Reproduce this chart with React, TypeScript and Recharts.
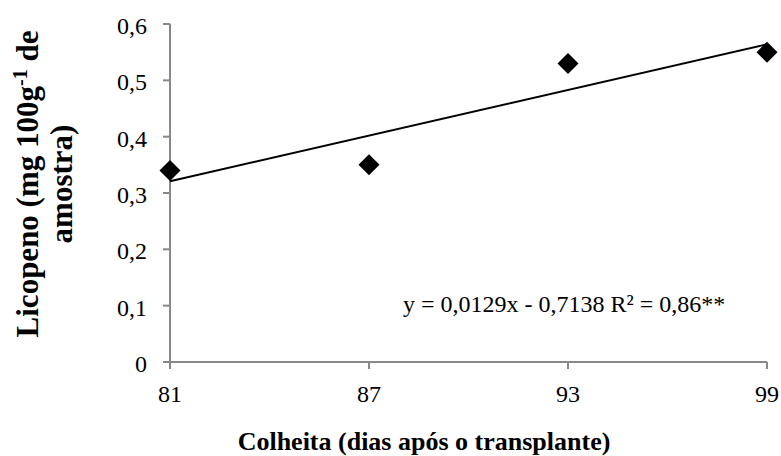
import { ScatterChart, Scatter, XAxis, YAxis, Label } from "recharts";

// harvest day (days after transplant) and lycopene content
const days = [81, 87, 93, 99];
const licopeno = [0.34, 0.35, 0.53, 0.55];

// linear trend, endpoints
const trendDays = [81, 99];
const trendValues = [0.321, 0.564];

const yTicks = [0, 0.1, 0.2, 0.3, 0.4, 0.5, 0.6];
const equation = "y = 0,0129x - 0,7138 R² = 0,86**";

const AXIS = "#888888";
const FONT = '"Liberation Serif", "Times New Roman", serif';

const points = days.map((d, i) => ({ x: d, y: licopeno[i] }));
const trend = trendDays.map((d, i) => ({ x: d, y: trendValues[i] }));

function fmt(v: number) {
  return v === 0 ? "0" : v.toFixed(1).replace(".", ",");
}

function Diamond(props: any) {
  const { cx, cy } = props;
  const r = 10.5;
  return (
    <polygon
      points={`${cx},${cy - r} ${cx + r},${cy} ${cx},${cy + r} ${cx - r},${cy}`}
      fill="#000"
    />
  );
}

function XTick(props: any) {
  const { x, y, payload } = props;
  return (
    <text x={x} y={y + 33} textAnchor="middle" fontFamily={FONT} fontSize={24} fill="#000">
      {payload.value}
    </text>
  );
}

function YTick(props: any) {
  const { x, y, payload } = props;
  return (
    <text x={x - 16} y={y + 10} textAnchor="end" fontFamily={FONT} fontSize={24} fill="#000">
      {fmt(payload.value)}
    </text>
  );
}

function YTitle() {
  const cy = 184;
  return (
    <g fontFamily={FONT} fontWeight="bold" fontSize={31} fill="#000">
      <text x={38} y={cy} textAnchor="middle" transform={`rotate(-90, 38, ${cy})`}>
        Licopeno (mg 100g
        <tspan dy={-11} fontSize={20}>-1</tspan>
        <tspan dy={11}> de</tspan>
      </text>
      <text x={72} y={cy} textAnchor="middle" transform={`rotate(-90, 72, ${cy})`}>
        amostra)
      </text>
    </g>
  );
}

function XTitle() {
  return (
    <text x={424} y={450} textAnchor="middle" fontFamily={FONT} fontWeight="bold" fontSize={26} fill="#000">
      Colheita (dias após o transplante)
    </text>
  );
}

function Equation() {
  return (
    <text x={403} y={312} fontFamily={FONT} fontSize={24} fill="#000">
      {equation}
    </text>
  );
}

export default function App() {
  return (
    <div style={{ position: "absolute", left: 0, top: 0, width: 781, height: 456, background: "#fff" }}>
      <ScatterChart width={781} height={456} margin={{ top: 24, right: 14, bottom: 0, left: 0 }}>
        <XAxis
          dataKey="x"
          type="number"
          domain={[81, 99]}
          ticks={days}
          tickSize={7}
          tickMargin={0}
          height={94}
          stroke={AXIS}
          strokeWidth={2}
          tickLine={{ stroke: AXIS, strokeWidth: 2 }}
          tick={<XTick />}
        >
          <Label content={<XTitle />} />
        </XAxis>
        <YAxis
          dataKey="y"
          type="number"
          domain={[0, 0.6]}
          ticks={yTicks}
          tickSize={7}
          tickMargin={0}
          width={170}
          stroke={AXIS}
          strokeWidth={2}
          tickLine={{ stroke: AXIS, strokeWidth: 2 }}
          tick={<YTick />}
        >
          <Label content={<YTitle />} />
        </YAxis>
        <Scatter
          data={trend}
          line={{ stroke: "#000", strokeWidth: 2 }}
          shape={() => <g />}
          isAnimationActive={false}
        />
        <Scatter data={points} shape={<Diamond />} isAnimationActive={false}>
          <Label content={<Equation />} />
        </Scatter>
      </ScatterChart>
    </div>
  );
}
